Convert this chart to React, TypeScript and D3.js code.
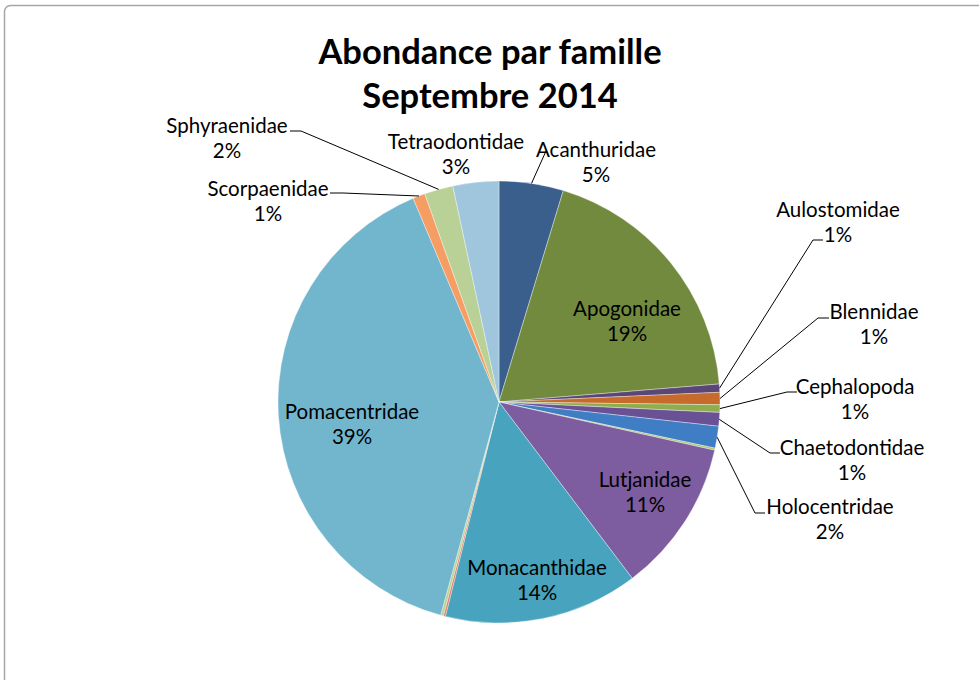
import React from "react";
import * as d3 from "d3";

const categories = [
  "Acanthuridae", "Apogonidae", "Aulostomidae", "Blennidae", "Cephalopoda",
  "Chaetodontidae", "Holocentridae", "Kyphosidae", "Lutjanidae", "Monacanthidae",
  "Mullidae", "Muraenidae", "Pomacentridae", "Scorpaenidae", "Sphyraenidae", "Tetraodontidae",
];
const values = [4.7, 19.0, 0.6, 0.9, 0.55, 1.0, 1.6, 0.15, 11.2, 14.2, 0.15, 0.2, 39.4, 0.9, 2.1, 3.35];
const showLabel = [true, true, true, true, true, true, true, false, true, true, false, false, true, true, true, true];
const colors = [
  "#3A5F8D", "#728A3E", "#5B4678", "#C66B2C", "#8EAD4C",
  "#6A5196", "#3F7DC4", "#A9C66C", "#7D5C9F", "#47A3BE",
  "#E07B6C", "#B8D490", "#72B6CE", "#F59D63", "#B9D196", "#A0C6DD",
];
const titleLines = ["Abondance par famille", "Septembre 2014"];

// label layout: [centerX, baselineY of name line, leader points...]
const labelLayout: Record<string, { x: number; y: number; leader?: [number, number][] }> = {
  Acanthuridae: { x: 596, y: 157, leader: [[546, 151]] },
  Apogonidae: { x: 627, y: 316 },
  Aulostomidae: { x: 838, y: 217, leader: [[813, 240], [823, 240]] },
  Blennidae: { x: 874, y: 319, leader: [[818, 318], [829, 318]] },
  Cephalopoda: { x: 855, y: 394, leader: [[787, 392], [797, 392]] },
  Chaetodontidae: { x: 852, y: 455, leader: [[770, 453], [780, 453]] },
  Holocentridae: { x: 830, y: 514, leader: [[755, 513], [765, 513]] },
  Lutjanidae: { x: 645, y: 487 },
  Monacanthidae: { x: 537, y: 575 },
  Pomacentridae: { x: 352, y: 419 },
  Scorpaenidae: { x: 268, y: 196, leader: [[343, 193], [330, 193]] },
  Sphyraenidae: { x: 227, y: 133, leader: [[301, 131], [290, 131]] },
  Tetraodontidae: { x: 456, y: 149 },
};

const W = 979, H = 680;
const cx = 499, cy = 402, R = 221;
const font = "Lato, 'Open Sans', sans-serif";

export default function App() {
  const data = categories.map((c, i) => ({ name: c, value: values[i], color: colors[i], show: showLabel[i] }));
  const total = d3.sum(values);
  const pie = d3.pie<any>().value((d) => d.value).sort(null).startAngle(0).endAngle(2 * Math.PI);
  const arcs = pie(data);
  const arc = d3.arc<any>().innerRadius(0).outerRadius(R);
  const edge = d3.arc<any>().innerRadius(R).outerRadius(R);

  return (
    <svg width={W} height={H} style={{ position: "absolute", left: 0, top: 0, background: "#fff" }}>
      <rect x={4.5} y={5.5} width={W + 20} height={H + 20} rx={6} fill="#fff" stroke="#A6A6A6" strokeWidth={1.5} />
      {titleLines.map((t, i) => (
        <text key={t} x={490} y={64 + i * 44} textAnchor="middle" fontFamily={font} fontWeight={700} fontSize={34.5} fill="#000">
          {t}
        </text>
      ))}
      <g transform={`translate(${cx},${cy})`}>
        {arcs.map((a) => (
          <path key={a.data.name} d={arc(a) as string} fill={a.data.color} stroke="#ffffff" strokeOpacity={0.6} strokeWidth={0.6} />
        ))}
      </g>
      {arcs.filter((a) => a.data.show && labelLayout[a.data.name]?.leader).map((a) => {
        const [ex, ey] = edge.centroid(a);
        const pts: [number, number][] = [[cx + ex, cy + ey], ...labelLayout[a.data.name].leader!];
        return <path key={"l" + a.data.name} d={d3.line()(pts) as string} fill="none" stroke="#000" strokeWidth={1} />;
      })}
      {arcs.filter((a) => a.data.show).map((a) => {
        const L = labelLayout[a.data.name];
        const pct = Math.round((a.data.value / total) * 100) + "%";
        return (
          <text key={"t" + a.data.name} x={L.x} y={L.y} textAnchor="middle" fontFamily={font} fontSize={20.5} fill="#000">
            <tspan x={L.x}>{a.data.name}</tspan>
            <tspan x={L.x} dy={25}>{pct}</tspan>
          </text>
        );
      })}
    </svg>
  );
}
